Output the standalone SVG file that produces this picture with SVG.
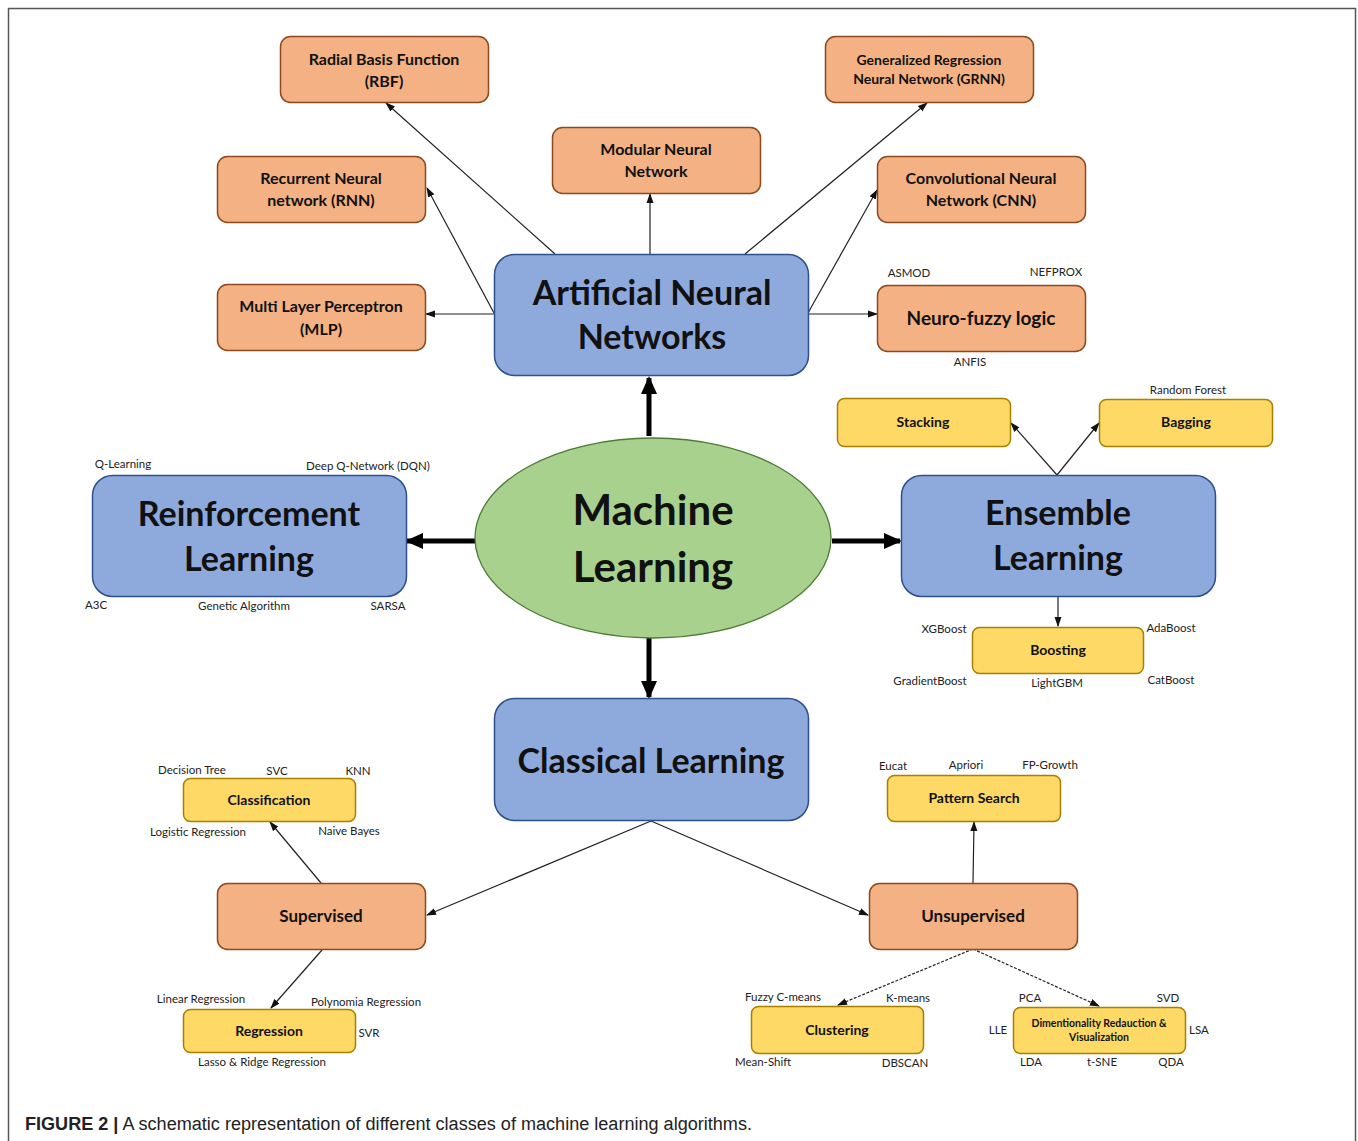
<svg xmlns="http://www.w3.org/2000/svg" width="1358" height="1141" viewBox="0 0 1358 1141">
<style>
.org{fill:#F4B183;stroke:#8C4A1E;stroke-width:1.5}
.blu{fill:#8EA9DB;stroke:#2F4F8F;stroke-width:1.5}
.yel{fill:#FFD966;stroke:#A88000;stroke-width:1.5}
.t{font-family:Lato,"Open Sans",sans-serif;font-weight:bold;fill:#111;text-anchor:middle}
.big{font-size:34px}
.mid{font-size:16px}
.sml{font-size:14px}
.lb{font-family:Lato,"Open Sans",sans-serif;font-size:11.5px;fill:#222;text-anchor:middle}
.ln{stroke:#222;stroke-width:1.2;fill:none;marker-end:url(#a)}
.dl{stroke:#222;stroke-width:1.2;fill:none;stroke-dasharray:3 1.5;marker-end:url(#a)}
.th{stroke:#000;stroke-width:5;fill:none;marker-end:url(#b)}
</style>
<defs>
<marker id="a" markerUnits="userSpaceOnUse" markerWidth="10" markerHeight="10" viewBox="0 0 10 10" refX="9" refY="5" orient="auto"><path d="M0,1.5 L10,5 L0,8.5 Z" fill="#111"/></marker>
<marker id="b" markerUnits="userSpaceOnUse" markerWidth="18" markerHeight="18" viewBox="0 0 18 18" refX="16" refY="9" orient="auto"><path d="M0,1 L18,9 L0,17 Z" fill="#000"/></marker>
</defs>
<rect width="1358" height="1141" fill="#fff"/>
<path d="M8.5,1141 V8.5 H1355.5 V1141" fill="none" stroke="#555" stroke-width="1.5"/>

<g id="connectors">
<line class="ln" x1="494" y1="314" x2="426" y2="314"/>
<line class="ln" x1="494" y1="313" x2="427" y2="188"/>
<line class="ln" x1="555" y1="254" x2="386" y2="103"/>
<line class="ln" x1="650" y1="254" x2="650" y2="194"/>
<line class="ln" x1="745" y1="254" x2="927" y2="103"/>
<line class="ln" x1="808" y1="313" x2="877" y2="190"/>
<line class="ln" x1="808" y1="314" x2="877" y2="314"/>
<line class="th" x1="649" y1="436" x2="649" y2="378"/>
<line class="th" x1="649" y1="638" x2="649" y2="697"/>
<line class="th" x1="475" y1="541" x2="407" y2="541"/>
<line class="th" x1="832" y1="541" x2="900" y2="541"/>
<line class="ln" x1="1057" y1="475" x2="1011" y2="423"/>
<line class="ln" x1="1057" y1="475" x2="1099" y2="423"/>
<line class="ln" x1="1058" y1="596" x2="1058" y2="626"/>
<line class="ln" x1="651" y1="821" x2="427" y2="915"/>
<line class="ln" x1="651" y1="821" x2="868" y2="915"/>
<line class="ln" x1="321" y1="883" x2="270" y2="822"/>
<line class="ln" x1="322" y1="950" x2="271" y2="1008"/>
<line class="ln" x1="973" y1="883" x2="974" y2="822"/>
<line class="dl" x1="973" y1="949" x2="838" y2="1005"/>
<line class="dl" x1="973" y1="949" x2="1099" y2="1006"/>
</g>

<g id="ann">
<rect class="blu" x="494.5" y="254.5" width="314" height="121" rx="20"/>
<text class="t big" x="652" y="305">Artificial Neural</text>
<text class="t big" x="652" y="349">Networks</text>
</g>
<g id="rbf">
<rect class="org" x="280.5" y="36.5" width="208" height="66" rx="10"/>
<text class="t mid" x="384" y="65">Radial Basis Function</text>
<text class="t mid" x="384" y="87">(RBF)</text>
</g>
<g id="rnn">
<rect class="org" x="217.5" y="156.5" width="208" height="66" rx="10"/>
<text class="t mid" x="321" y="184">Recurrent Neural</text>
<text class="t mid" x="321" y="206">network (RNN)</text>
</g>
<g id="mlp">
<rect class="org" x="217.5" y="284.5" width="208" height="66" rx="10"/>
<text class="t mid" x="321" y="312">Multi Layer Perceptron</text>
<text class="t mid" x="321" y="335">(MLP)</text>
</g>
<g id="modular">
<rect class="org" x="552.5" y="127.5" width="208" height="66" rx="10"/>
<text class="t mid" x="656" y="155">Modular Neural</text>
<text class="t mid" x="656" y="177">Network</text>
</g>
<g id="grnn">
<rect class="org" x="825.5" y="36.5" width="208" height="66" rx="10"/>
<text class="t sml" x="929" y="65">Generalized Regression</text>
<text class="t sml" x="929" y="84">Neural Network (GRNN)</text>
</g>
<g id="cnn">
<rect class="org" x="877.5" y="156.5" width="208" height="66" rx="10"/>
<text class="t mid" x="981" y="184">Convolutional Neural</text>
<text class="t mid" x="981" y="206">Network (CNN)</text>
</g>
<g id="neurofuzzy">
<rect class="org" x="877.5" y="285.5" width="208" height="66" rx="10"/>
<text class="t" style="font-size:19px" x="981" y="325">Neuro-fuzzy logic</text>
<text class="lb" x="909" y="277">ASMOD</text>
<text class="lb" x="1056" y="276">NEFPROX</text>
<text class="lb" x="970" y="366">ANFIS</text>
</g>

<g id="ml">
<ellipse cx="653" cy="538" rx="178" ry="100" fill="#A9D18E" stroke="#4E7A35" stroke-width="1.3"/>
<text class="t" style="font-size:42px" x="653" y="525">Machine</text>
<text class="t" style="font-size:42px" x="653" y="582">Learning</text>
</g>

<g id="rl">
<rect class="blu" x="92.5" y="475.5" width="314" height="121" rx="20"/>
<text class="t big" x="249" y="526">Reinforcement</text>
<text class="t big" x="249" y="571">Learning</text>
<text class="lb" x="123" y="468">Q-Learning</text>
<text class="lb" x="368" y="470">Deep Q-Network (DQN)</text>
<text class="lb" x="96" y="609">A3C</text>
<text class="lb" x="244" y="610">Genetic Algorithm</text>
<text class="lb" x="388" y="610">SARSA</text>
</g>

<g id="ensemble">
<rect class="blu" x="901.5" y="475.5" width="314" height="121" rx="20"/>
<text class="t big" x="1058" y="525">Ensemble</text>
<text class="t big" x="1058" y="570">Learning</text>
</g>
<g id="stacking">
<rect class="yel" x="837.5" y="398.5" width="173" height="48" rx="7"/>
<text class="t" style="font-size:14px" x="923" y="427">Stacking</text>
</g>
<g id="bagging">
<rect class="yel" x="1099.5" y="399.5" width="173" height="47" rx="7"/>
<text class="t" style="font-size:14px" x="1186" y="427">Bagging</text>
<text class="lb" x="1188" y="394">Random Forest</text>
</g>
<g id="boosting">
<rect class="yel" x="972.5" y="627.5" width="171" height="46" rx="7"/>
<text class="t" style="font-size:14px" x="1058" y="655">Boosting</text>
<text class="lb" x="944" y="633">XGBoost</text>
<text class="lb" x="1171" y="632">AdaBoost</text>
<text class="lb" x="930" y="685">GradientBoost</text>
<text class="lb" x="1057" y="687">LightGBM</text>
<text class="lb" x="1171" y="684">CatBoost</text>
</g>

<g id="classical">
<rect class="blu" x="494.5" y="698.5" width="314" height="122" rx="20"/>
<text class="t big" x="651" y="773">Classical Learning</text>
</g>
<g id="supervised">
<rect class="org" x="217.5" y="883.5" width="208" height="66" rx="10"/>
<text class="t" style="font-size:17px" x="321" y="922">Supervised</text>
</g>
<g id="classification">
<rect class="yel" x="183.5" y="778.5" width="172" height="43" rx="7"/>
<text class="t" style="font-size:14px" x="269" y="805">Classification</text>
<text class="lb" x="192" y="774">Decision Tree</text>
<text class="lb" x="277" y="775">SVC</text>
<text class="lb" x="358" y="775">KNN</text>
<text class="lb" x="198" y="836">Logistic Regression</text>
<text class="lb" x="349" y="835">Naive Bayes</text>
</g>
<g id="regression">
<rect class="yel" x="183.5" y="1009.5" width="172" height="43" rx="7"/>
<text class="t" style="font-size:14px" x="269" y="1036">Regression</text>
<text class="lb" x="201" y="1003">Linear Regression</text>
<text class="lb" x="366" y="1006">Polynomia Regression</text>
<text class="lb" x="369" y="1037">SVR</text>
<text class="lb" x="262" y="1066">Lasso &amp; Ridge Regression</text>
</g>
<g id="unsupervised">
<rect class="org" x="869.5" y="883.5" width="208" height="66" rx="10"/>
<text class="t" style="font-size:17px" x="973" y="922">Unsupervised</text>
</g>
<g id="patternsearch">
<rect class="yel" x="887.5" y="775.5" width="173" height="46" rx="7"/>
<text class="t" style="font-size:14px" x="974" y="803">Pattern Search</text>
<text class="lb" x="893" y="770">Eucat</text>
<text class="lb" x="966" y="769">Apriori</text>
<text class="lb" x="1050" y="769">FP-Growth</text>
</g>
<g id="clustering">
<rect class="yel" x="751.5" y="1006.5" width="172" height="47" rx="7"/>
<text class="t" style="font-size:14px" x="837" y="1035">Clustering</text>
<text class="lb" x="783" y="1001">Fuzzy C-means</text>
<text class="lb" x="908" y="1002">K-means</text>
<text class="lb" x="763" y="1066">Mean-Shift</text>
<text class="lb" x="905" y="1067">DBSCAN</text>
</g>
<g id="dimred">
<rect class="yel" x="1013.5" y="1007.5" width="172" height="46" rx="7"/>
<text class="t" style="font-size:10.5px" x="1099" y="1027">Dimentionality Redauction &amp;</text>
<text class="t" style="font-size:10.5px" x="1099" y="1041">Visualization</text>
<text class="lb" x="1030" y="1002">PCA</text>
<text class="lb" x="1168" y="1002">SVD</text>
<text class="lb" x="998" y="1034">LLE</text>
<text class="lb" x="1199" y="1034">LSA</text>
<text class="lb" x="1031" y="1066">LDA</text>
<text class="lb" x="1102" y="1066">t-SNE</text>
<text class="lb" x="1171" y="1066">QDA</text>
</g>

<text x="25" y="1130" font-family="'Liberation Sans',Arial,sans-serif" font-size="18" fill="#222" textLength="727" lengthAdjust="spacingAndGlyphs"><tspan font-weight="bold">FIGURE 2 |</tspan> A schematic representation of different classes of machine learning algorithms.</text>
</svg>
